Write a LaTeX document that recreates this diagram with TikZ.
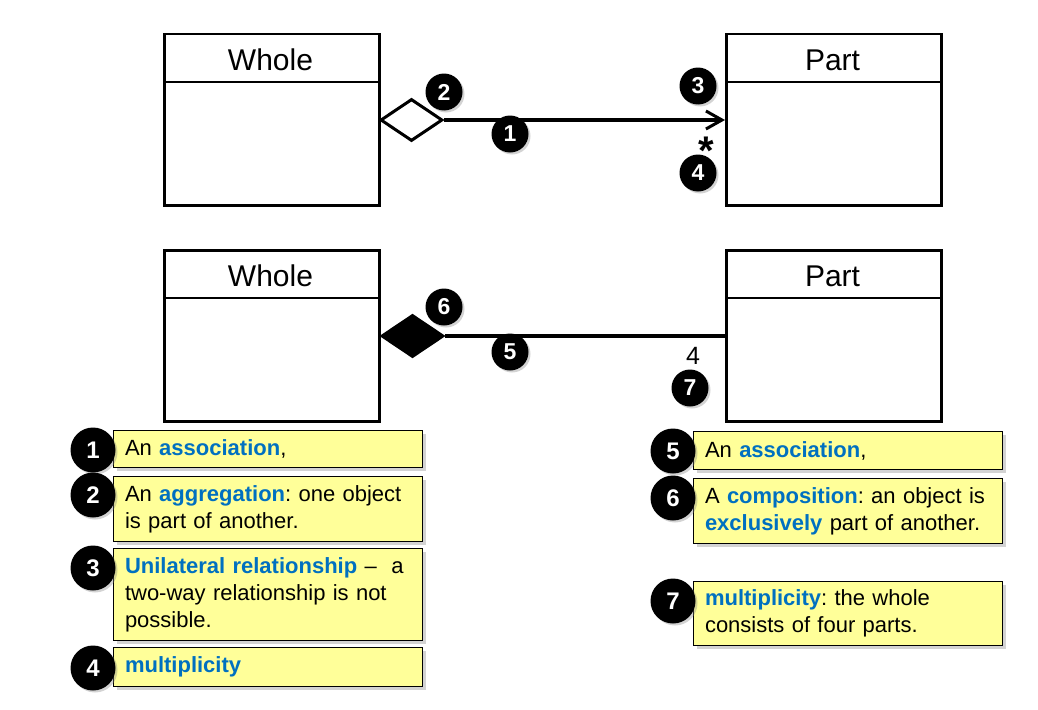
\documentclass[tikz,border=0pt]{standalone}
\usepackage{fontspec}
\setmainfont{Liberation Sans}
\usetikzlibrary{shadows,arrows.meta,shapes.geometric}
\definecolor{kwblue}{RGB}{0,112,192}
\definecolor{noteyellow}{RGB}{255,255,153}
\newcommand{\kw}[1]{\textbf{\color{kwblue}#1}}
\begin{document}
\begin{tikzpicture}[x=1pt,y=-1pt,
  classbox/.style={draw, line width=2.5pt, minimum width=215pt, minimum height=171pt, inner sep=0pt, anchor=north west},
  classtitle/.style={font=\fontsize{30}{30}\selectfont, inner sep=0pt},
  badge/.style={circle, fill=black, text=white, font=\bfseries\fontsize{23}{23}\selectfont, minimum size=37pt, inner sep=0pt,
    drop shadow={shadow xshift=2pt, shadow yshift=-2pt, opacity=0.35}},
  bigbadge/.style={badge, minimum size=45pt, font=\bfseries\fontsize{24}{24}\selectfont},
  note/.style={draw, line width=1pt, fill=noteyellow, anchor=north west, minimum width=309pt, text width=286pt,
    inner xsep=11pt, inner ysep=0pt, align=left, font=\fontsize{22}{27}\selectfont\frenchspacing,
    drop shadow={shadow xshift=3pt, shadow yshift=-3pt, opacity=0.35}},
  conn/.style={line width=3.2pt},
  dia/.style={diamond, draw, line width=3pt, aspect=1.45, minimum width=62pt, minimum height=42pt, inner sep=0pt}
]
\useasboundingbox (0,0) rectangle (1038,709);

% ---------- top diagram ----------
\node[classbox] (w1) at (163,33) {};
\node[classbox] (p1) at (725,33) {};
\draw[line width=2.5pt] (163,82) -- (378,82);
\draw[line width=2.5pt] (725,82) -- (940,82);
\node[classtitle] (w1t) at (270.5,60) {Whole};
\node[classtitle] (p1t) at (832.5,60) {Part};

\node[dia, fill=white] (d1) at (411.5,120) {};
\draw[conn, -{Straight Barb[length=16pt,width=18pt,line width=3pt]}] (d1.east) -- (d1.east -| p1.west);
\node[font=\bfseries\fontsize{40}{40}\selectfont, inner sep=0pt, text height=14pt, text depth=0pt] (star) at (706,157) {*};

\node[badge] (b2) at (444,92) {2};
\node[badge] (b1) at (510,134) {1};
\node[badge] (b3) at (698,86) {3};
\node[badge] (b4) at (698,173) {4};

% ---------- bottom diagram ----------
\node[classbox] (w2) at (163,249) {};
\node[classbox] (p2) at (725,249) {};
\draw[line width=2.5pt] (163,298) -- (378,298);
\draw[line width=2.5pt] (725,298) -- (940,298);
\node[classtitle] (w2t) at (270.5,276) {Whole};
\node[classtitle] (p2t) at (832.5,276) {Part};

\node[dia, fill=black] (d2) at (412.5,336) {};
\draw[conn] (d2.east) -- (d2.east -| p2.west);
\node[font=\fontsize{25}{25}\selectfont, inner sep=0pt] (mult) at (693,356) {4};

\node[badge] (b6) at (444,307) {6};
\node[badge] (b5) at (510,352) {5};
\node[badge] (b7) at (690,388) {7};

% ---------- callouts left ----------
\node[note, minimum height=37pt] (n1) at (113,430) {An \kw{association},};
\node[note, minimum height=65pt] (n2) at (113,476) {An \kw{aggregation}: one object\\is part of another.};
\node[note, minimum height=92pt] (n3) at (113,548) {\kw{Unilateral relationship} --\ \ a\\two-way relationship is not\\possible.};
\node[note, minimum height=39pt] (n4) at (113,647) {\kw{multiplicity}};
\node[bigbadge] (c1) at (93,450) {1};
\node[bigbadge] (c2) at (93,495) {2};
\node[bigbadge] (c3) at (93,568) {3};
\node[bigbadge] (c4) at (93,668) {4};

% ---------- callouts right ----------
\node[note, minimum height=38pt] (n5) at (693,431) {An \kw{association},};
\node[note, minimum height=65pt] (n6) at (693,478) {A \kw{composition}: an object is\\\kw{exclusively} part of another.};
\node[note, minimum height=64pt] (n7) at (693,581) {\kw{multiplicity}: the whole\\consists of four parts.};
\node[bigbadge] (c5) at (673,451) {5};
\node[bigbadge] (c6) at (673,498) {6};
\node[bigbadge] (c7) at (673,601) {7};
\end{tikzpicture}
\end{document}
